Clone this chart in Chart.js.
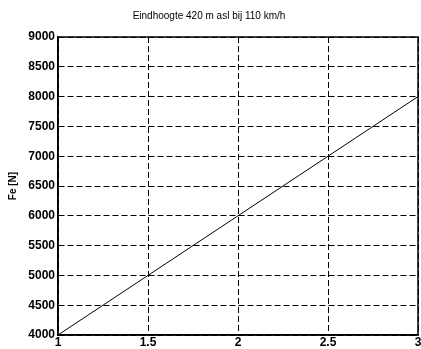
<!DOCTYPE html>
<html>
<head>
<meta charset="utf-8">
<script src="https://cdn.jsdelivr.net/npm/chart.js@4/dist/chart.umd.min.js"></script>
<style>
  html, body { margin: 0; padding: 0; background: #fff; }
  #wrap { width: 421px; height: 349px; }
</style>
</head>
<body>
<div id="wrap"><canvas id="chart" width="421" height="349"></canvas></div>
<script>
const xValues = [1, 1.5, 2, 2.5, 3];
const yValues = [4000, 5000, 6000, 7000, 8000];
const xTicks = [1, 1.5, 2, 2.5, 3];
const yTicks = [4000, 4500, 5000, 5500, 6000, 6500, 7000, 7500, 8000, 8500, 9000];
const titleText = 'Eindhoogte 420 m asl bij 110 km/h';
const yTitle = 'Fe [N]';

const points = xValues.map((x, i) => ({ x, y: yValues[i] }));

// solid box around the plot area
const frame = {
  id: 'frame',
  afterDraw(c) {
    const a = c.chartArea;
    const ctx = c.ctx;
    ctx.save();
    ctx.strokeStyle = '#000';
    ctx.lineWidth = 1.5;
    ctx.setLineDash([]);
    ctx.strokeRect(a.left, a.top, a.right - a.left, a.bottom - a.top);
    ctx.restore();
  }
};

const tickFont = { family: 'Liberation Sans, Arial', size: 12, weight: 'bold' };

new Chart(document.getElementById('chart'), {
  type: 'scatter',
  data: {
    datasets: [{
      data: points,
      showLine: true,
      borderColor: '#000',
      borderWidth: 1,
      pointRadius: 0,
      fill: false
    }]
  },
  plugins: [frame],
  options: {
    responsive: false,
    animation: false,
    layout: { padding: { left: 0, right: 3, top: 0, bottom: 0 } },
    plugins: {
      legend: { display: false },
      tooltip: { enabled: false },
      title: {
        display: true,
        text: titleText,
        color: '#000',
        font: { family: 'Liberation Sans, Arial', size: 10, weight: 'normal' },
        padding: { top: 10, bottom: 15 }
      }
    },
    scales: {
      x: {
        type: 'linear',
        min: 1,
        max: 3,
        afterBuildTicks: s => { s.ticks = xTicks.map(v => ({ value: v })); },
        afterFit: s => { s.height = 14; s.paddingLeft = 0; s.paddingRight = 0; },
        grid: {
          color: '#000',
          lineWidth: 1,
          drawTicks: false
        },
        border: { display: true, color: '#000', width: 1.5, dash: [6, 3] },
        ticks: {
          color: '#000',
          font: tickFont,
          padding: 0,
          maxRotation: 0,
          callback: v => String(v)
        }
      },
      y: {
        min: 4000,
        max: 9000,
        afterBuildTicks: s => { s.ticks = yTicks.map(v => ({ value: v })); },
        afterFit: s => { s.width = 58; s.paddingTop = 0; s.paddingBottom = 0; },
        grid: {
          color: '#000',
          lineWidth: 1,
          drawTicks: false
        },
        border: { display: true, color: '#000', width: 1.5, dash: [6, 3] },
        title: {
          display: true,
          text: yTitle,
          color: '#000',
          font: { family: 'Liberation Sans, Arial', size: 10, weight: 'bold' },
          padding: { top: 7, bottom: 0 }
        },
        ticks: {
          color: '#000',
          font: tickFont,
          padding: 3,
          callback: v => String(v)
        }
      }
    }
  }
});
</script>
</body>
</html>
